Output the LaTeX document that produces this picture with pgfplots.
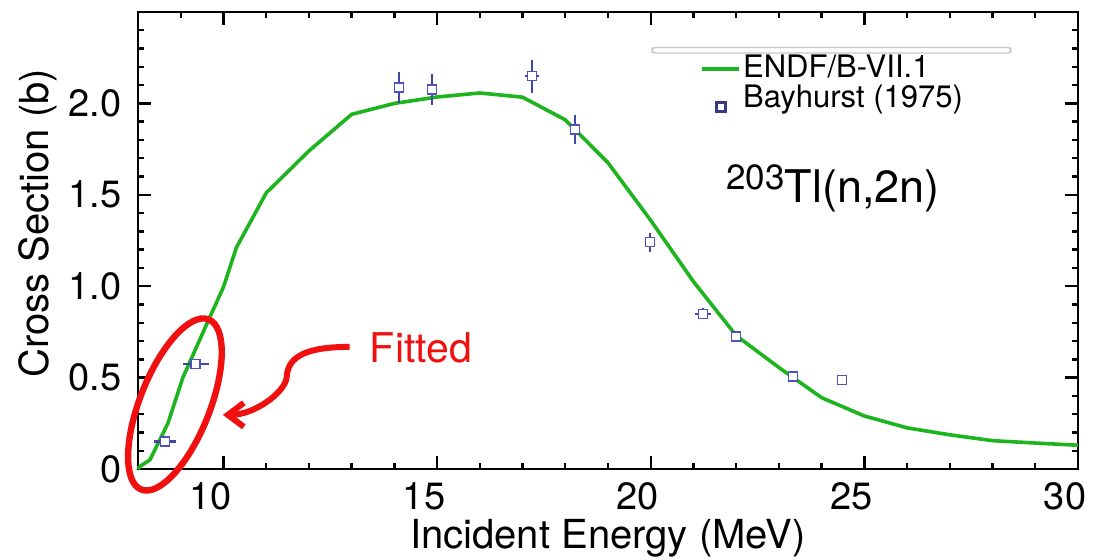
\documentclass[border=0pt]{standalone}
\usepackage{fontspec}
\setmainfont{TeX Gyre Heros}
\usepackage{pgfplots}
\pgfplotsset{compat=1.18}
\usepackage{pgfplotstable}
\usetikzlibrary{arrows.meta}

\definecolor{endfgreen}{RGB}{30,180,30}
\definecolor{bayblue}{RGB}{80,80,190}
\definecolor{annred}{RGB}{240,16,16}

\newcommand{\legfont}{\fontsize{15.5}{18}\selectfont}

% legend images: a short line, and a single square set a little low
\pgfplotsset{
  endf legend/.style={legend image code/.code={\draw[##1] (0pt,0pt) -- (18.5pt,0pt);}},
  data legend/.style={legend image code/.code={\draw[mark repeat=2,mark phase=2,##1,
      mark options={fill=white, draw=bayblue!70!black, line width=1.3pt}]
      plot coordinates {(0pt,-4pt) (9.25pt,-4pt) (18.5pt,-4pt)};}},
}

% ENDF/B-VII.1 evaluation, 203Tl(n,2n)
\pgfplotstableread{
E     xs
8.0   0.0
8.05  0.015
8.28  0.05
8.7   0.25
9.05  0.50
9.26  0.61
9.68  0.83
10.0  0.995
10.3  1.21
11.0  1.51
12.0  1.74
13.0  1.94
14.0  2.0
15.0  2.035
16.0  2.057
17.0  2.034
18.0  1.91
19.0  1.675
20.0  1.36
21.0  1.025
22.0  0.73
23.0  0.555
24.0  0.39
25.0  0.29
26.0  0.225
27.0  0.187
28.0  0.155
29.0  0.142
30.0  0.13
}\endfdata

% Bayhurst (1975) activation measurements
\pgfplotstableread{
E      xs     dE    dxs
8.63   0.150  0.26  0.0
9.35   0.575  0.30  0.0
14.11  2.087  0.0   0.087
14.88  2.076  0.0   0.085
17.22  2.149  0.16  0.091
18.23  1.857  0.0   0.080
19.98  1.241  0.08  0.052
21.22  0.849  0.18  0.030
21.99  0.725  0.0   0.0
23.33  0.506  0.0   0.0
24.48  0.487  0.0   0.0
}\bayhurst

\begin{document}
\begin{tikzpicture}
\begin{axis}[
  name=ax,
  scale only axis, width=470pt, height=228.5pt,
  xmin=8, xmax=30, ymin=0, ymax=2.5,
  xtick={10,15,20,25,30},
  minor xtick={9,11,12,13,14,16,17,18,19,21,22,23,24,26,27,28,29},
  ytick={0,0.5,1,1.5,2},
  yticklabels={0,0.5,1.0,1.5,2.0},
  minor ytick={0.1,0.2,0.3,0.4,0.6,0.7,0.8,0.9,1.1,1.2,1.3,1.4,1.6,1.7,1.8,1.9,2.1,2.2,2.3,2.4},
  tick align=inside, tick pos=both,
  xticklabel pos=lower, yticklabel pos=left,
  axis line style={line width=1.35pt},
  every tick/.append style={black, line width=1.2pt},
  every minor tick/.append style={black, line width=1.2pt},
  major tick length=6.5pt, minor tick length=3pt,
  /pgf/number format/assume math mode=true,
  tick label style={font=\fontsize{19}{22}\selectfont},
  xticklabel style={inner sep=0pt, yshift=-6.5pt, xshift=-6.5pt},
  yticklabel style={inner sep=0pt, xshift=-8pt},
  xlabel={Incident Energy (MeV)},
  ylabel={Cross Section (b)},
  label style={font=\fontsize{20}{24}\selectfont},
  xlabel style={at={(axis description cs:0.5,-0.1729)}, anchor=base, inner sep=0pt},
  ylabel style={at={(axis description cs:-0.1277,0.538)}, anchor=north, inner sep=0pt},
  clip=false,
  legend style={at={(0.598,0.909)}, anchor=north west, draw=none, fill=none,
    inner sep=0pt,
    nodes={inner sep=1pt, text height=10.8pt, text depth=2.2pt}},
  legend cell align=left,
]
\addplot[endfgreen, line width=1.8pt, endf legend]
  table[x=E, y=xs]{\endfdata};
\addlegendentry{\legfont ENDF/B-VII.1}

\addplot[bayblue, only marks, mark=square*, mark size=2.25pt,
  mark options={fill=white, draw=bayblue, line width=0.75pt},
  data legend,
  error bars/.cd, x dir=both, x explicit, y dir=both, y explicit,
  error mark=none, error bar style={bayblue!85!black, line width=1.1pt}]
  table[x=E, y=xs, x error=dE, y error=dxs]{\bayhurst};
\addlegendentry{\legfont Bayhurst (1975)}

% empty frame above the legend entries
\draw[black!22, line width=0.7pt, fill=white, rounded corners=1.5pt]
  (rel axis cs:0.5468,0.9103) rectangle (rel axis cs:0.9287,0.9223);

% reaction label
\node[anchor=base west, inner sep=0pt] at (axis cs:21.76,1.457)
  {{\fontsize{17.5}{20}\selectfont\raisebox{6.5pt}{203}}\fontsize{22.5}{26}\selectfont Tl(n,2n)};

% annotation of the fitted low-energy region
\draw[annred, line width=3.2pt, rotate around={68.4:(axis cs:8.864,0.353)}]
  (axis cs:8.864,0.353) ellipse [x radius=45.75pt, y radius=17.5pt];
\draw[annred, line width=3pt, -{Straight Barb[length=8pt, width=12pt]}]
  (axis cs:12.953,0.668) .. controls (axis cs:12.019,0.668) and (axis cs:11.505,0.624)
  .. (axis cs:11.481,0.504) .. controls (axis cs:11.458,0.422) and (axis cs:10.734,0.296)
  .. (axis cs:9.986,0.296);
\node[anchor=base west, inner sep=0pt, text=annred, font=\fontsize{20.5}{24}\selectfont]
  at (axis cs:13.42,0.580) {Fitted};
\end{axis}
\pgfresetboundingbox
\path ([shift={(-69pt,-45.5pt)}]ax.south west) rectangle ([shift={(8pt,6pt)}]ax.north east);
\end{tikzpicture}
\end{document}
